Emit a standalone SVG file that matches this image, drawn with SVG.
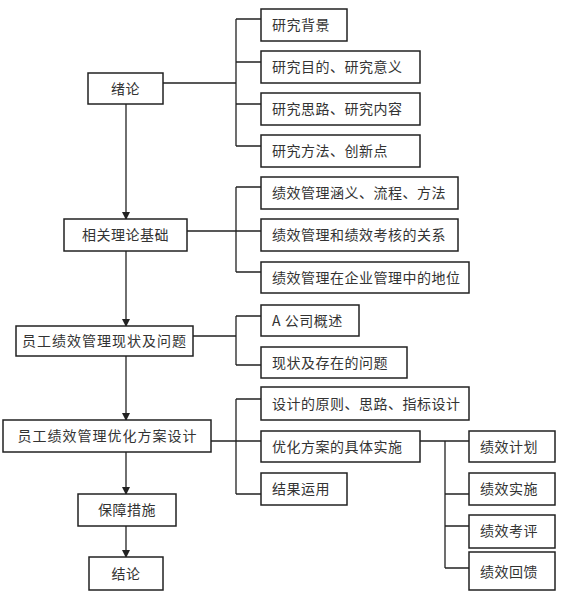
<svg xmlns="http://www.w3.org/2000/svg" width="579" height="600" viewBox="0 0 579 600">
<style>
.box{fill:#fff;stroke:#222;stroke-width:1.5}
.t{font-family:"Noto Sans CJK SC","Noto Sans",sans-serif;font-size:14px;fill:#333;letter-spacing:0.5px}
.c{text-anchor:middle}
.ln{fill:none;stroke:#222;stroke-width:1.3}
</style>
<defs>
<marker id="ar" markerWidth="8" markerHeight="8" refX="7" refY="4" orient="auto" markerUnits="userSpaceOnUse">
<path d="M0,0 L8,4 L0,8 Z" fill="#222"/>
</marker>
</defs>
<rect width="579" height="600" fill="#fff"/>
<g id="connectors">
<path class="ln" d="M126,104 V219" marker-end="url(#ar)"/>
<path class="ln" d="M126,251 V326" marker-end="url(#ar)"/>
<path class="ln" d="M126,356 V420" marker-end="url(#ar)"/>
<path class="ln" d="M126,452 V494" marker-end="url(#ar)"/>
<path class="ln" d="M126,526 V557" marker-end="url(#ar)"/>
<path class="ln" d="M163,83 H236 M236,19 V146 M236,19 H261 M236,62 H261 M236,104 H261 M236,146 H261"/>
<path class="ln" d="M187,231 H261 M236,187 V272 M236,187 H261 M236,272 H261"/>
<path class="ln" d="M193,336 H236 M236,316 V365 M236,316 H261 M236,365 H261"/>
<path class="ln" d="M211,441 H261 M236,399 V494 M236,399 H261 M236,494 H261"/>
<path class="ln" d="M420,441 H469 M445,441 V568 M445,494 H469 M445,526 H469 M445,568 H469"/>
</g>
<g id="n1"><rect class="box" x="88" y="73" width="75" height="31"/><text class="t c" x="125.5" y="93.5">绪论</text></g>
<g id="n2"><rect class="box" x="64" y="219" width="123" height="32"/><text class="t c" x="125.5" y="240">相关理论基础</text></g>
<g id="n3"><rect class="box" x="16" y="326" width="177" height="30"/><text class="t c" x="104.5" y="346" style="letter-spacing:1px">员工绩效管理现状及问题</text></g>
<g id="n4"><rect class="box" x="3" y="420" width="208" height="32"/><text class="t c" x="107.5" y="441" style="letter-spacing:1px">员工绩效管理优化方案设计</text></g>
<g id="n5"><rect class="box" x="78" y="494" width="98" height="32"/><text class="t c" x="127" y="515">保障措施</text></g>
<g id="n6"><rect class="box" x="89" y="557" width="74" height="33"/><text class="t c" x="126" y="578.5">结论</text></g>
<g id="s1"><rect class="box" x="261" y="9" width="86" height="32"/><text class="t" x="272" y="30">研究背景</text></g>
<g id="s2"><rect class="box" x="261" y="51" width="159" height="32"/><text class="t" x="272" y="72">研究目的、研究意义</text></g>
<g id="s3"><rect class="box" x="261" y="93" width="159" height="32"/><text class="t" x="272" y="114">研究思路、研究内容</text></g>
<g id="s4"><rect class="box" x="261" y="135" width="159" height="32"/><text class="t" x="272" y="156">研究方法、创新点</text></g>
<g id="s5"><rect class="box" x="261" y="177" width="197" height="32"/><text class="t" x="272" y="198">绩效管理涵义、流程、方法</text></g>
<g id="s6"><rect class="box" x="261" y="219" width="197" height="32"/><text class="t" x="272" y="240">绩效管理和绩效考核的关系</text></g>
<g id="s7"><rect class="box" x="261" y="262" width="208" height="31"/><text class="t" x="272" y="282.5">绩效管理在企业管理中的地位</text></g>
<g id="s8"><rect class="box" x="261" y="305" width="98" height="31"/><text class="t" x="272" y="325.5">A 公司概述</text></g>
<g id="s9"><rect class="box" x="261" y="347" width="146" height="31"/><text class="t" x="272" y="367.5">现状及存在的问题</text></g>
<g id="s10"><rect class="box" x="261" y="387" width="208" height="33"/><text class="t" x="272" y="408.5">设计的原则、思路、指标设计</text></g>
<g id="s11"><rect class="box" x="261" y="431" width="159" height="31"/><text class="t" x="272" y="451.5">优化方案的具体实施</text></g>
<g id="s12"><rect class="box" x="261" y="473" width="86" height="32"/><text class="t" x="272" y="494">结果运用</text></g>
<g id="p1"><rect class="box" x="469" y="431" width="86" height="31"/><text class="t" x="480" y="451.5">绩效计划</text></g>
<g id="p2"><rect class="box" x="469" y="473" width="86" height="32"/><text class="t" x="480" y="494">绩效实施</text></g>
<g id="p3"><rect class="box" x="469" y="515" width="86" height="33"/><text class="t" x="480" y="536">绩效考评</text></g>
<g id="p4"><rect class="box" x="469" y="552" width="86" height="38"/><text class="t" x="480" y="577">绩效回馈</text></g>
</svg>
